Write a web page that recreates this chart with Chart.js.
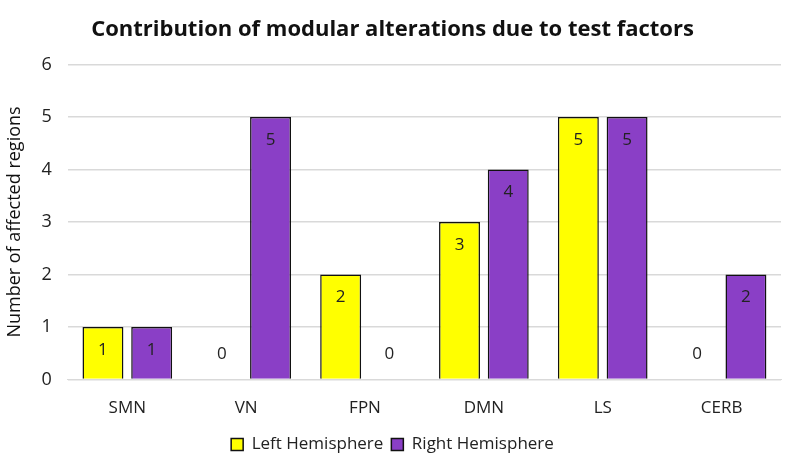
<!DOCTYPE html>
<html>
<head>
<meta charset="utf-8">
<script src="https://cdn.jsdelivr.net/npm/chart.js@4/dist/chart.umd.min.js"></script>
<style>
  html, body { margin: 0; padding: 0; background: #fff; }
  #wrap { width: 787px; height: 465px; }
</style>
</head>
<body>
<div id="wrap"><canvas id="myChart"></canvas></div>
<script>
var categories = ["SMN", "VN", "FPN", "DMN", "LS", "CERB"];
var leftHemisphere = [1, 0, 2, 3, 5, 0];
var rightHemisphere = [1, 5, 0, 4, 5, 2];
var yTicks = [0, 1, 2, 3, 4, 5, 6];

var fontFam = "'Open Sans', 'Liberation Sans', sans-serif";

// value labels drawn inside the top of each bar (zeros sit just above the axis)
var barLabels = {
    id: "barLabels",
    afterDatasetsDraw: function(chart) {
        var ctx = chart.ctx;
        var yScale = chart.scales.y;
        ctx.save();
        ctx.font = "17px " + fontFam;
        ctx.fillStyle = "#222";
        ctx.textAlign = "center";
        ctx.textBaseline = "middle";
        chart.data.datasets.forEach(function(ds, i) {
            var meta = chart.getDatasetMeta(i);
            meta.data.forEach(function(bar, j) {
                var v = ds.data[j];
                var y = v === 0 ? yScale.getPixelForValue(0) - 25 : bar.y + 23;
                ctx.fillText(String(v), bar.x, y);
            });
        });
        ctx.restore();
    }
};

var myChart = document.getElementById("myChart").getContext("2d");

var barChart = new Chart(myChart, {
    type: "bar",
    data: {
        labels: categories,
        datasets: [{
            label: "Left Hemisphere",
            data: leftHemisphere,
            backgroundColor: "#FFFF00",
            borderColor: "#111",
            borderWidth: 1.5,
            categoryPercentage: 0.82,
            barPercentage: 0.84
        }, {
            label: "Right Hemisphere",
            data: rightHemisphere,
            backgroundColor: "#8A3FC6",
            borderColor: "#111",
            borderWidth: 1.5,
            categoryPercentage: 0.82,
            barPercentage: 0.84
        }]
    },
    options: {
        responsive: true,
        maintainAspectRatio: false,
        animation: false,
        layout: { padding: { left: 4, right: 6, top: 8, bottom: 2 } },
        plugins: {
            title: {
                display: true,
                text: "Contribution of modular alterations due to test factors",
                color: "#111",
                font: { family: fontFam, size: 22, weight: "bold" },
                padding: { top: 9, bottom: 21 }
            },
            legend: {
                display: true,
                position: "bottom",
                labels: {
                    color: "#222",
                    font: { family: fontFam, size: 17 },
                    boxWidth: 12,
                    boxHeight: 12,
                    padding: 8
                }
            },
            tooltip: { enabled: false }
        },
        scales: {
            x: {
                grid: { display: false },
                border: { color: "#d9d9d9" },
                ticks: { color: "#222", font: { family: fontFam, size: 17 }, padding: 10 },
            },
            y: {
                min: 0,
                max: 6,
                afterBuildTicks: function(axis) {
                    axis.ticks = yTicks.map(function(v) { return { value: v }; });
                },
                grid: { color: "#d9d9d9", lineWidth: 1.5, drawTicks: false },
                border: { display: false },
                ticks: { color: "#222", font: { family: fontFam, size: 18 }, padding: 16 },
                title: {
                    display: true,
                    text: "Number of affected regions",
                    color: "#111",
                    font: { family: fontFam, size: 18 },
                    padding: { top: 0, bottom: 0 }
                }
            }
        }
    },
    plugins: [barLabels]
});
</script>
</body>
</html>
